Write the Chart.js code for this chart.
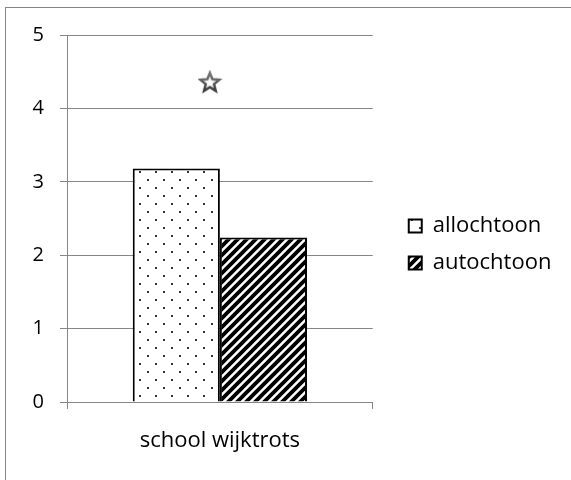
<!DOCTYPE html>
<html>
<head>
<meta charset="utf-8">
<script src="https://cdn.jsdelivr.net/npm/chart.js@4/dist/chart.umd.min.js"></script>
<style>
  html, body { margin: 0; padding: 0; background: #fff; overflow: hidden; }
  #wrap { width: 571px; height: 480px; }
</style>
</head>
<body>
<div id="wrap"><canvas id="chart" width="571" height="480"></canvas></div>
<script>
// data
const categories = ['school wijktrots'];
const seriesNames = ['allochtoon', 'autochtoon'];
const allochtoon = [3.18];
const autochtoon = [2.24];
const markerValues = [4.35];   // star marker above the bars
const yTicks = [0, 1, 2, 3, 4, 5];

const FONT = '"Open Sans", sans-serif';
const GREY = '#868686';

// dotted fill for the first series
function makeDotPattern() {
    const c = document.createElement('canvas');
    c.width = 16; c.height = 16;
    const g = c.getContext('2d');
    g.fillStyle = '#fff';
    g.fillRect(0, 0, 16, 16);
    g.fillStyle = '#333';
    g.fillRect(3, 3, 2, 2);
    g.fillRect(11, 11, 2, 2);
    return g.createPattern(c, 'repeat');
}

// diagonal stripes for the second series
function makeStripePattern() {
    const s = 9;
    const c = document.createElement('canvas');
    c.width = s; c.height = s;
    const g = c.getContext('2d');
    g.fillStyle = '#fff';
    g.fillRect(0, 0, s, s);
    g.strokeStyle = '#000';
    g.lineWidth = 3.8;
    g.beginPath();
    g.moveTo(-1, s + 1); g.lineTo(s + 1, -1);
    g.moveTo(-s / 2 - 1, s / 2 + 1); g.lineTo(s / 2 + 1, -s / 2 - 1);
    g.moveTo(s / 2 - 1, s * 1.5 + 1); g.lineTo(s * 1.5 + 1, s / 2 - 1);
    g.stroke();
    return g.createPattern(c, 'repeat');
}

// outlined five point star used as point style
function makeStar() {
    const c = document.createElement('canvas');
    c.width = 44; c.height = 26;
    const g = c.getContext('2d');
    const cx = 12, cy = 13, R = 10, r = 4.4;
    g.beginPath();
    for (let i = 0; i < 10; i++) {
        const a = -Math.PI / 2 + i * Math.PI / 5;
        const rad = i % 2 === 0 ? R : r;
        g.lineTo(cx + rad * Math.cos(a), cy + rad * Math.sin(a));
    }
    g.closePath();
    const grad = g.createRadialGradient(cx, cy, 1, cx, cy, 6);
    grad.addColorStop(0, '#fff');
    grad.addColorStop(1, '#ddd');
    g.fillStyle = grad;
    g.fill();
    const lg = g.createLinearGradient(cx, cy - R, cx, cy + R);
    lg.addColorStop(0, '#777');
    lg.addColorStop(1, '#333');
    g.strokeStyle = lg;
    g.lineWidth = 2.4;
    g.lineJoin = 'miter';
    g.stroke();
    return c;
}

const outerFrame = {
    id: 'outerFrame',
    beforeDraw(chart) {
        const ctx = chart.ctx;
        ctx.save();
        ctx.strokeStyle = GREY;
        ctx.lineWidth = 1;
        ctx.strokeRect(5.5, 7.5, 700, 700);
        ctx.restore();
    }
};

// push the legend a little away from the plot, as in the original
const legendShift = {
    id: 'legendShift',
    afterLayout(chart) {
        const lg = chart.legend;
        lg.left += 21;
        lg.right = chart.width;   // keep the labels from being clipped
        lg.top -= 13;
        lg.bottom -= 13;
    }
};

const ctx = document.getElementById('chart');
const chart = new Chart(ctx, {
    type: 'bar',
    data: {
        labels: categories,
        datasets: [
            {
                label: seriesNames[0],
                data: allochtoon,
                backgroundColor: makeDotPattern(),
                borderColor: '#000',
                borderWidth: 2,
                barPercentage: 1,
                categoryPercentage: 0.57
            },
            {
                label: seriesNames[1],
                data: autochtoon,
                backgroundColor: makeStripePattern(),
                borderColor: '#000',
                borderWidth: 2,
                barPercentage: 1,
                categoryPercentage: 0.57
            },
            {
                type: 'line',
                label: 'marker',
                data: markerValues,
                showLine: false,
                pointStyle: makeStar(),
                pointRadius: 10
            }
        ]
    },
    options: {
        responsive: false,
        animation: false,
        layout: { padding: { left: 0, top: 35, right: 74, bottom: 0 } },
        plugins: {
            tooltip: { enabled: false },
            legend: {
                position: 'right',
                labels: {
                    filter: item => item.datasetIndex < 2,
                    boxWidth: 13,
                    boxHeight: 13,
                    padding: 15,
                    color: '#000',
                    font: { family: FONT, size: 22 }
                }
            }
        },
        scales: {
            x: {
                grid: { display: true, drawOnChartArea: false, offset: true, color: GREY, tickLength: 7 },
                border: { color: GREY },
                ticks: { color: '#000', padding: 19, font: { family: FONT, size: 22 } },
                afterFit(scale) { scale.height = 78; }
            },
            y: {
                min: 0,
                max: 5,
                afterBuildTicks(scale) { scale.ticks = yTicks.map(v => ({ value: v })); },
                grid: { color: GREY, tickLength: 7 },
                border: { color: GREY },
                ticks: { color: '#000', padding: 16, font: { family: FONT, size: 20 } },
                afterFit(scale) { scale.width = 67; }
            }
        }
    },
    plugins: [outerFrame, legendShift]
});
</script>
</body>
</html>
